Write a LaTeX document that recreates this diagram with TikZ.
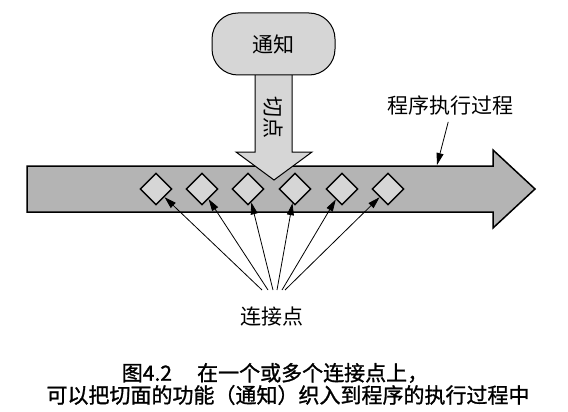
\documentclass[tikz,border=0pt]{standalone}
\usepackage{fontspec}
\setmainfont{Noto Sans CJK SC}
\newfontfamily\capfont[FakeBold=1.2]{Noto Sans CJK SC}
\usepackage{tikz}
\usetikzlibrary{shapes.geometric, arrows.meta}
\definecolor{light}{RGB}{214, 214, 214}
\definecolor{band}{RGB}{180, 180, 180}

\begin{document}
\begin{tikzpicture}[x=1pt, y=-1pt, thick,
  jp/.style={diamond, draw, fill=light, inner sep=0, minimum size=32pt, line width=1.4pt},
  ptr/.style={-{Triangle[length=12pt, width=7pt]}, line width=0.8pt},
  lbl/.style={font=\fontsize{21}{24}\selectfont, inner sep=0}]
  \useasboundingbox (0,0) rectangle (568,412);

  % Program flow
  \draw [fill=band, line width=1.5pt] (27,166) -- (493,166) -- (493,150) -- (535,189)
    -- (493,228) -- (493,212) -- (27,212) -- cycle;

  % Pointcut
  \draw [fill=light, line width=1pt] (255,70) -- (255,152) -- (236,152) -- (274,180)
    -- (312,152) -- (292,152) -- (292,70);
  \node [lbl, rotate=-90] (pc) at (273,117) {切点};

  % Advice
  \node [lbl, draw, fill=light, line width=1pt, rounded corners=26pt,
    minimum width=123pt, minimum height=62pt] (advice) at (273.5,44) {通知};

  % Join points
  \foreach \x [count=\i] in {156,202,248,295,342,388}
    \node [jp] (d\i) at (\x,189) {};

  \node [lbl] (join) at (272,317) {连接点};
  \foreach \x [count=\i] in {262,268,273,277,282,285} {
    \coordinate (f\i) at (\x,290);
    \draw [ptr] (f\i) -- (d\i);
  }

  % Execution
  \node [lbl] (flow) at (450,105) {程序执行过程};
  \coordinate (flowpt) at (437,165);
  \draw [ptr, shorten <=7pt] (flow.south) -- (flowpt);

  % Caption
  \node [lbl, font=\capfont\fontsize{21}{24}\selectfont] (cap1) at (275,373)
    {图4.2\hspace{1.2em}在一个或多个连接点上，};
  \node [lbl, font=\capfont\fontsize{21}{24}\selectfont] (cap2) at (288,395)
    {可以把切面的功能（通知）织入到程序的执行过程中};
\end{tikzpicture}
\end{document}
